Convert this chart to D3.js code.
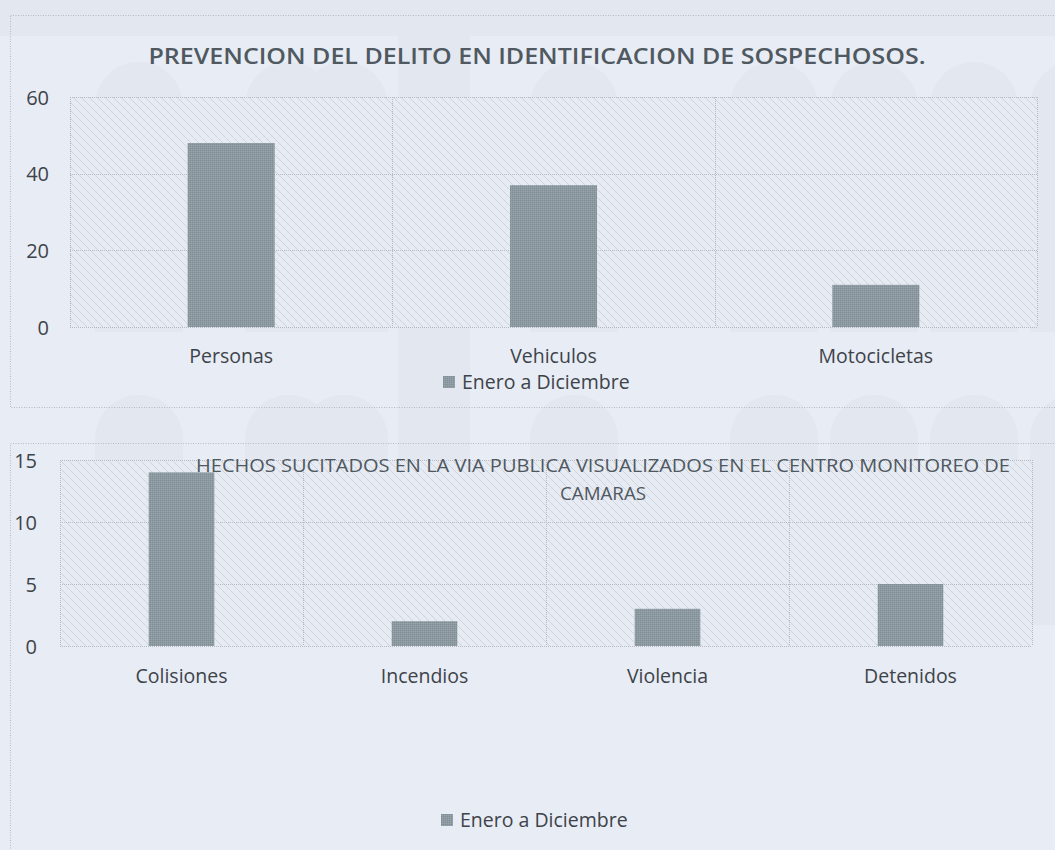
<!DOCTYPE html>
<html>
<head>
<meta charset="utf-8">
<script src="https://cdn.jsdelivr.net/npm/d3@7"></script>
<style>
  html, body { margin: 0; padding: 0; background: #e8ecf5; }
  svg { display: block; }
</style>
</head>
<body>
<svg id="page" width="1055" height="850"></svg>
<script>
// ---- Data ----
const title1 = "PREVENCION DEL DELITO EN IDENTIFICACION DE SOSPECHOSOS.";
const categories1 = ["Personas", "Vehiculos", "Motocicletas"];
const values1 = [48, 37, 11];
const ticks1 = [0, 20, 40, 60];

const title2Lines = ["HECHOS SUCITADOS EN LA VIA PUBLICA VISUALIZADOS EN EL CENTRO MONITOREO DE", "CAMARAS"];
const categories2 = ["Colisiones", "Incendios", "Violencia", "Detenidos"];
const values2 = [14, 2, 3, 5];
const ticks2 = [0, 5, 10, 15];

const seriesName = "Enero a Diciembre";

// ---- Setup ----
const svg = d3.select("#page");
const W = 1055, H = 850;
const textColor = "#3d4349";
const gridColor = "#b5bac3";
const barColor = "#8d9aa1";
const labelFont = "'Open Sans', 'Noto Sans', sans-serif";

svg.append("rect").attr("width", W).attr("height", H).attr("fill", "#e8ecf5");

const defs = svg.append("defs");
// Hatched fill for the plot areas
const hatch = defs.append("pattern")
  .attr("id", "hatch").attr("patternUnits", "userSpaceOnUse")
  .attr("width", 8).attr("height", 8);
hatch.append("rect").attr("width", 8).attr("height", 8).attr("fill", "#e7ebf3");
hatch.append("path")
  .attr("d", "M-1,-1 L9,9 M-5,3 L5,13 M3,-5 L13,5")
  .attr("stroke", "#bcc1ca").attr("stroke-width", 0.6);
hatch.append("path")
  .attr("d", "M-1,9 L9,-1")
  .attr("stroke", "#cdd1d9").attr("stroke-width", 0.5).attr("stroke-dasharray", "1,2");

// Speckled bar fill
const speck = defs.append("pattern")
  .attr("id", "speck").attr("patternUnits", "userSpaceOnUse")
  .attr("width", 2).attr("height", 2);
speck.append("rect").attr("width", 2).attr("height", 2).attr("fill", barColor);
speck.append("rect").attr("width", 1).attr("height", 1).attr("fill", "#808d95");
speck.append("rect").attr("x", 1).attr("y", 1).attr("width", 1).attr("height", 1).attr("fill", "#97a3aa");

// Faint letterhead watermark behind the charts
const wm = svg.append("g").attr("fill", "#9aa3b3").attr("opacity", 0.06);
wm.append("rect").attr("x", 0).attr("y", 0).attr("width", W).attr("height", 36);
wm.append("rect").attr("x", 398).attr("y", 30).attr("width", 72).attr("height", 590);
function arch(g, x, y, w, h) {
  const r = w / 2;
  g.append("path").attr("d",
    `M${x},${y + h} L${x},${y + r} A${r},${r} 0 0 1 ${x + w},${y + r} L${x + w},${y + h} Z`);
}
[95, 245, 300, 530, 730, 830, 930, 1030].forEach(x => arch(wm, x, 62, 88, 270));
[95, 245, 300, 530, 730, 830, 930, 1030].forEach(x => arch(wm, x, 395, 88, 230));

// Chart frames (dotted)
svg.append("rect").attr("x", 10.5).attr("y", 15.5).attr("width", 1060).attr("height", 392)
  .attr("fill", "none").attr("stroke", gridColor).attr("stroke-dasharray", "1,1.5");
svg.append("rect").attr("x", 10.5).attr("y", 443.5).attr("width", 1060).attr("height", 420)
  .attr("fill", "none").attr("stroke", gridColor).attr("stroke-dasharray", "1,1.5");

function drawChart(opts) {
  const { left, right, top, bottom, cats, vals, ticks, tickX, labelY, legendY, legendX } = opts;
  const x = d3.scaleBand().domain(cats).range([left, right]).paddingInner(0).paddingOuter(0);
  const y = d3.scaleLinear().domain([0, d3.max(ticks)]).range([bottom, top]);
  const g = svg.append("g");

  // Plot area
  g.append("rect").attr("x", left).attr("y", top)
    .attr("width", right - left).attr("height", bottom - top)
    .attr("fill", "url(#hatch)").attr("opacity", 0.9);

  // Horizontal gridlines
  g.append("g").selectAll("line").data(ticks).join("line")
    .attr("x1", left).attr("x2", right)
    .attr("y1", d => Math.round(y(d)) + 0.5).attr("y2", d => Math.round(y(d)) + 0.5)
    .attr("stroke", gridColor).attr("stroke-width", 1).attr("stroke-dasharray", "1,1");

  // Vertical category dividers
  const edges = cats.map(c => x(c)).concat([right]);
  g.append("g").selectAll("line").data(edges).join("line")
    .attr("x1", d => Math.round(d) + 0.5).attr("x2", d => Math.round(d) + 0.5)
    .attr("y1", top).attr("y2", bottom)
    .attr("stroke", gridColor).attr("stroke-width", 1).attr("stroke-dasharray", "1,1");

  // Bars
  const bw = x.bandwidth() * 0.27;
  g.append("g").selectAll("rect").data(cats).join("rect")
    .attr("x", d => x(d) + x.bandwidth() / 2 - bw / 2)
    .attr("y", (d, i) => y(vals[i]))
    .attr("width", bw)
    .attr("height", (d, i) => y(0) - y(vals[i]))
    .attr("fill", "url(#speck)");

  // Y axis labels
  const yAxis = d3.axisLeft(y).tickValues(ticks).tickSize(0).tickPadding(0);
  const ya = g.append("g").attr("transform", `translate(${tickX},0)`).call(yAxis);
  ya.select(".domain").remove();
  ya.selectAll("text").attr("fill", textColor).attr("font-family", labelFont)
    .attr("font-size", 20).attr("dy", "0.35em");

  // X axis labels
  const xAxis = d3.axisBottom(x).tickSize(0).tickPadding(0);
  const xa = g.append("g").attr("transform", `translate(0,${labelY})`).call(xAxis);
  xa.select(".domain").remove();
  xa.selectAll("text").attr("fill", textColor).attr("font-family", labelFont)
    .attr("font-size", 19.5).attr("dy", "0.35em");

  // Legend
  const lg = g.append("g").attr("transform", `translate(${legendX},${legendY})`);
  lg.append("rect").attr("x", 0).attr("y", -6).attr("width", 12).attr("height", 12)
    .attr("fill", "url(#speck)");
  lg.append("text").attr("x", 19).attr("y", 0).attr("dy", "0.35em")
    .attr("fill", textColor).attr("font-family", labelFont).attr("font-size", 19.5)
    .text(seriesName);
}

// ---- Chart 1 ----
svg.append("text")
  .attr("x", 537).attr("y", 64).attr("text-anchor", "middle")
  .attr("fill", "#4f595f").attr("font-family", labelFont)
  .attr("font-weight", 600).attr("font-size", 21)
  .attr("textLength", 777).attr("lengthAdjust", "spacingAndGlyphs")
  .text(title1);

drawChart({
  left: 70, right: 1037, top: 97, bottom: 327,
  cats: categories1, vals: values1, ticks: ticks1,
  tickX: 49, labelY: 356, legendY: 382, legendX: 443
});

// ---- Chart 2 ----
drawChart({
  left: 60, right: 1032, top: 460, bottom: 646,
  cats: categories2, vals: values2, ticks: ticks2,
  tickX: 37, labelY: 676, legendY: 820, legendX: 441
});

svg.append("g").selectAll("text").data(title2Lines).join("text")
  .attr("x", 603).attr("y", (d, i) => 472 + i * 28).attr("text-anchor", "middle")
  .attr("fill", "#4f585f").attr("font-family", labelFont).attr("font-size", 18)
  .attr("textLength", (d, i) => i === 0 ? 814 : 86).attr("lengthAdjust", "spacingAndGlyphs")
  .text(d => d);
</script>
</body>
</html>
